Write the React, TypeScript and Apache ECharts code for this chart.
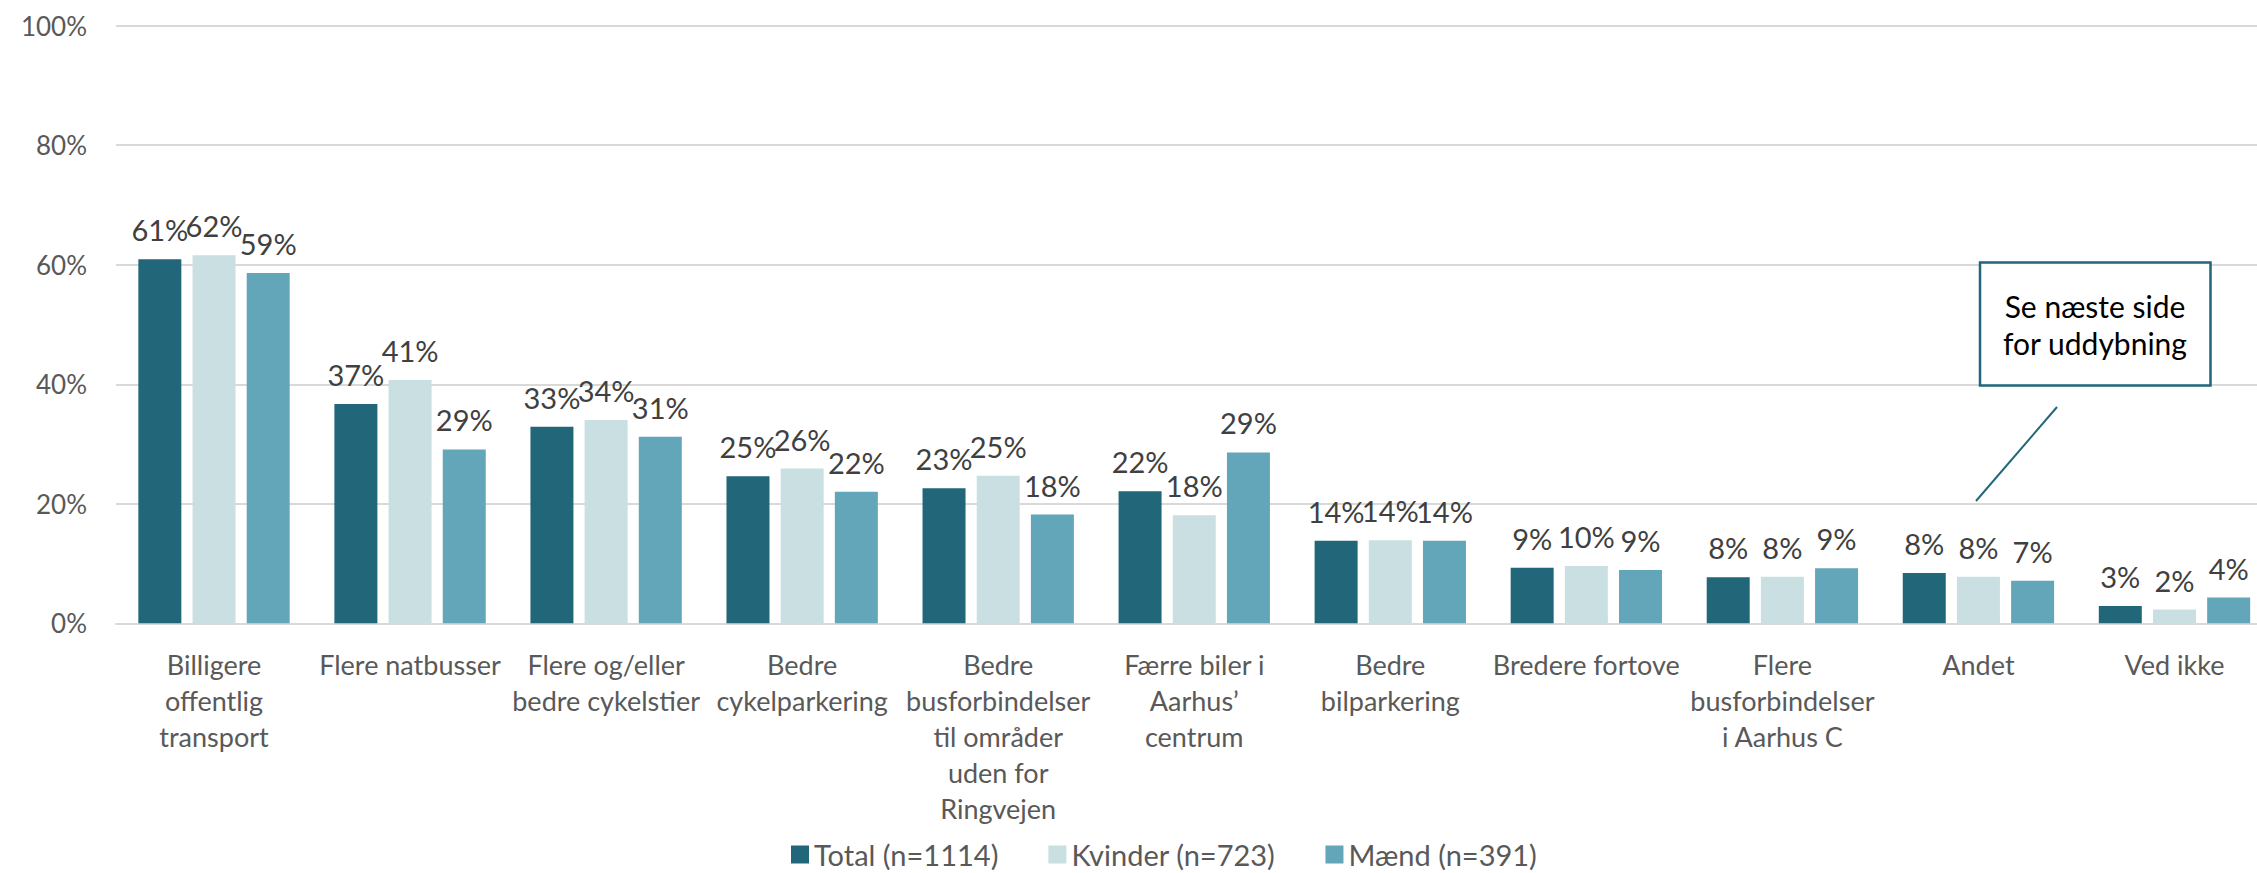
import React, { useEffect, useRef } from "react";
import * as echarts from "echarts";

const categories: string[] = [
  "Billigere\noffentlig\ntransport",
  "Flere natbusser",
  "Flere og/eller\nbedre cykelstier",
  "Bedre\ncykelparkering",
  "Bedre\nbusforbindelser\ntil områder\nuden for\nRingvejen",
  "Færre biler i\nAarhus’\ncentrum",
  "Bedre\nbilparkering",
  "Bredere fortove",
  "Flere\nbusforbindelser\ni Aarhus C",
  "Andet",
  "Ved ikke",
];

const seriesNames: string[] = ["Total (n=1114)", "Kvinder (n=723)", "Mænd (n=391)"];

const totalValues: number[] = [60.9, 36.7, 32.9, 24.6, 22.6, 22.1, 13.8, 9.3, 7.7, 8.4, 2.9];
const kvinderValues: number[] = [61.6, 40.7, 34.0, 25.9, 24.7, 18.1, 13.9, 9.6, 7.8, 7.8, 2.3];
const maendValues: number[] = [58.6, 29.1, 31.2, 22.0, 18.2, 28.6, 13.8, 8.9, 9.2, 7.1, 4.3];

const yTicks = { min: 0, max: 100, interval: 20 };
const calloutLines: string[] = ["Se næste side", "for uddybning"];

const COLORS = ["#22667A", "#C9DFE2", "#63A5B9"];
const FONT = "Lato, 'Open Sans', sans-serif";

export default function App() {
  const ref = useRef<HTMLDivElement>(null);

  useEffect(() => {
    if (!ref.current) return;
    const chart = echarts.init(ref.current, undefined, { renderer: "svg" });
    const valuesList = [totalValues, kvinderValues, maendValues];

    const option: any = {
      animation: false,
      backgroundColor: "#ffffff",
      textStyle: { fontFamily: FONT },
      grid: {
        left: 116,
        top: 25.7,
        width: 2156.5,
        height: 597.6,
        containLabel: false,
        outerBoundsMode: "none",
      },
      legend: {
        data: seriesNames,
        left: 786,
        top: 835,
        icon: "rect",
        itemWidth: 18,
        itemHeight: 18,
        itemGap: 50,
        textStyle: { fontFamily: FONT, fontSize: 29, color: "#595959", lineHeight: 26 },
      },
      xAxis: {
        type: "category",
        data: categories,
        axisLine: { show: true, lineStyle: { color: "#D9D9D9", width: 2 } },
        axisTick: { show: false },
        axisLabel: {
          interval: 0,
          margin: 23,
          fontFamily: FONT,
          fontSize: 27,
          lineHeight: 36,
          color: "#595959",
          align: "center",
        },
      },
      yAxis: {
        type: "value",
        min: yTicks.min,
        max: yTicks.max,
        interval: yTicks.interval,
        axisLine: { show: false },
        axisTick: { show: false },
        splitLine: { lineStyle: { color: "#D9D9D9", width: 2 } },
        axisLabel: {
          formatter: "{value}%",
          margin: 29,
          fontFamily: FONT,
          fontSize: 26,
          color: "#595959",
        },
      },
      series: seriesNames.map((name, i) => ({
        name,
        type: "bar",
        data: valuesList[i],
        barWidth: 43,
        barGap: "26%",
        itemStyle: { color: COLORS[i] },
        label: {
          show: true,
          position: "top",
          distance: 15,
          fontFamily: FONT,
          fontSize: 29,
          color: "#404040",
          formatter: (p: any) => Math.round(p.value) + "%",
        },
      })),
      graphic: [
        {
          type: "line",
          shape: { x1: 2057, y1: 407, x2: 1976, y2: 501 },
          style: { stroke: "#22667A", lineWidth: 2 },
          z: 100,
        },
        {
          type: "rect",
          shape: { x: 1980, y: 262.5, width: 230.5, height: 123 },
          style: { fill: "#ffffff", stroke: "#22667A", lineWidth: 2.5 },
          z: 100,
        },
        {
          type: "text",
          x: 2095,
          y: 324,
          style: {
            text: calloutLines.join("\n"),
            fontFamily: FONT,
            fontSize: 30,
            lineHeight: 37,
            fill: "#000000",
            align: "center",
            verticalAlign: "middle",
          },
          z: 101,
        },
      ],
    };

    chart.setOption(option);
    return () => chart.dispose();
  }, []);

  return (
    <div
      ref={ref}
      style={{ position: "absolute", left: 0, top: 0, width: 2257, height: 873 }}
    />
  );
}
